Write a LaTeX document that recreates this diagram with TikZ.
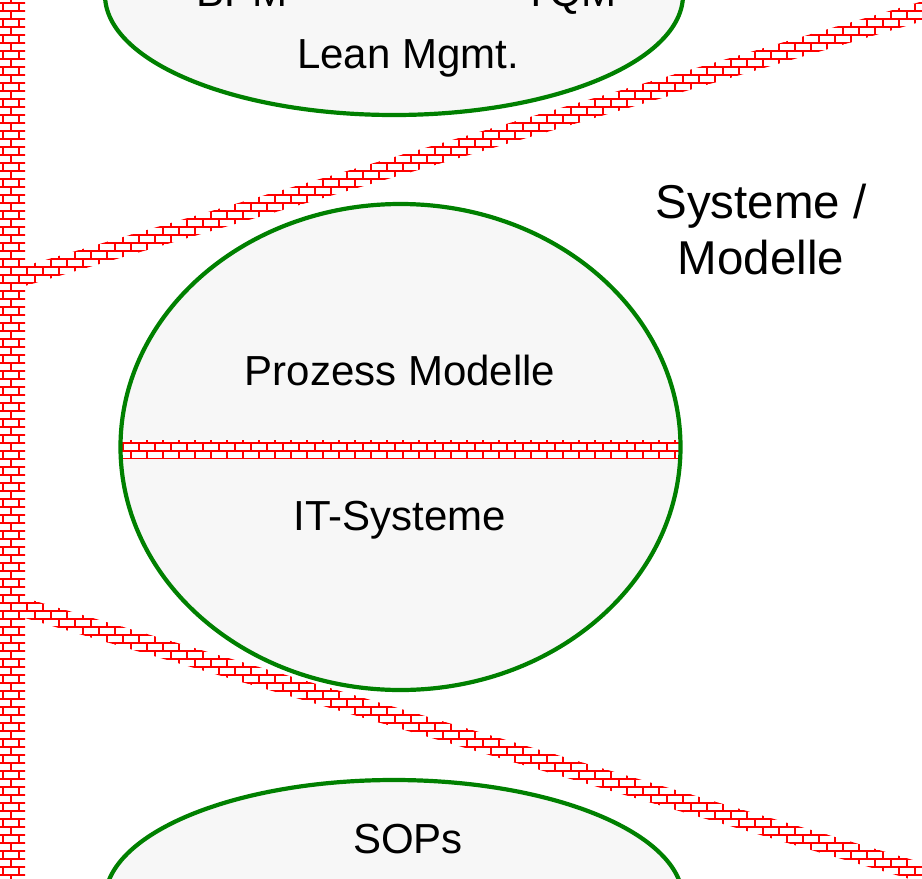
\documentclass[tikz,border=0pt]{standalone}
\usepackage{fontspec}
\setmainfont{Liberation Sans}
\definecolor{ellfill}{HTML}{F7F7F7}
\definecolor{ellgreen}{HTML}{008000}
\tikzset{
  mortar/.style={draw=red, line width=1.7pt},
  ellbody/.style={fill=ellfill},
  ellline/.style={draw=ellgreen, line width=4.2pt},
  lbl/.style={anchor=base, inner sep=0pt, font=\fontsize{42}{56}\selectfont},
  biglbl/.style={anchor=base, inner sep=0pt, align=center, font=\fontsize{47.5}{56}\selectfont}
}
% rows #1..#2 of bricks, columns -1..#3
\newcommand\brickrows[3]{%
  \foreach \r in {#1,...,#2}{%
    \pgfmathtruncatemacro\off{mod(\r,2)*8+3}%
    \draw[mortar] (-5,8*\r+3) -- (940,8*\r+3)
      \foreach \c in {-1,...,#3} {(16*\c+\off,8*\r+3) -- ++(0,8)};
  }%
}
\begin{document}
\begin{tikzpicture}[x=1pt,y=-1pt]
\useasboundingbox (0,0) rectangle (922,879);
\fill[white] (0,0) rectangle (922,879);
% top band
\begin{scope}
  \clip (10,270.4) -- (935,-2.5) -- (935,17.5) -- (10,290.4) -- cycle;
  \fill[white] (0,-5) rectangle (940,300);
  \brickrows{-1}{37}{59}
\end{scope}
% bottom band
\begin{scope}
  \clip (10,593.6) -- (935,866.5) -- (935,886.5) -- (10,613.6) -- cycle;
  \fill[white] (0,580) rectangle (940,890);
  \brickrows{72}{111}{59}
\end{scope}
% left wall
\begin{scope}
  \clip (0,-5) rectangle (25,885);
  \fill[white] (0,-5) rectangle (25,885);
  \brickrows{-1}{111}{2}
\end{scope}
% top ellipse
\path[ellbody, ellline] (394,-5) ellipse [x radius=289, y radius=120];
\node[lbl] (bpm) at (242,6) {BPM};
\node[lbl] (tqm) at (570,6) {TQM};
\node[lbl] (lean) at (408,68) {Lean Mgmt.};
% middle ellipse
\fill[ellbody] (400.5,447) ellipse [x radius=280, y radius=243];
\begin{scope}
  \clip (121,440) rectangle (680,458);
  \fill[white] (121,440) rectangle (680,458);
  \brickrows{54}{57}{43}
\end{scope}
\draw[ellline] (400.5,447) ellipse [x radius=280, y radius=243];
\node[lbl] (proz) at (400,385) {Prozess Modelle};
\node[lbl] (its) at (400,530) {IT-Systeme};
% bottom ellipse
\path[ellbody, ellline] (394,900) ellipse [x radius=289, y radius=120];
\node[lbl] (sops) at (408,853) {SOPs};
% side label
\node[biglbl] (sys) at (761,274) {Systeme /\\Modelle};
\end{tikzpicture}
\end{document}
